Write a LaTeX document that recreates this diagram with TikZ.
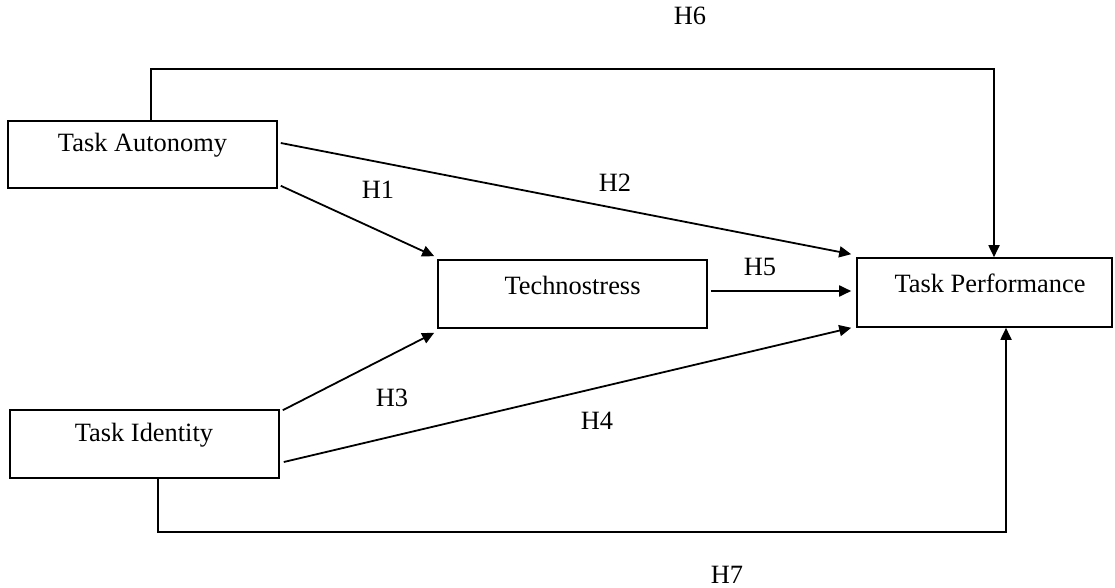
\documentclass[tikz,border=0pt]{standalone}
\usepackage{fontspec}
\setmainfont{Liberation Serif}
\usetikzlibrary{arrows.meta}
\tikzset{
  box/.style={draw, line width=1.6pt, inner sep=0pt},
  lbl/.style={inner sep=0pt, font=\fontsize{26.4}{32}\selectfont},
  conn/.style={line width=1.8pt},
  arr/.style={conn, -{Triangle[length=12pt,width=11pt]}}
}
\begin{document}
\begin{tikzpicture}[x=1pt,y=-1pt]
\useasboundingbox (0,0) rectangle (1115,588);
% boxes
\node[box, minimum width=269pt, minimum height=67pt] (ta) at (142.5,154.5) {};
\node[box, minimum width=269pt, minimum height=68pt] (ts) at (572.5,294) {};
\node[box, minimum width=255pt, minimum height=69pt] (tp) at (984.5,292.5) {};
\node[box, minimum width=269pt, minimum height=68pt] (ti) at (144.5,444) {};
% box texts
\node[lbl] (tat) at (142.5,145) {Task Autonomy};
\node[lbl] (tst) at (572.5,285) {Technostress};
\node[lbl] (tpt) at (990,283) {Task Performance};
\node[lbl] (tit) at (144,435) {Task Identity};
% routing levels
\coordinate (toplev) at (0,69);
\coordinate (botlev) at (0,532);
% connectors
\draw[arr] ([shift={(3,-11.5)}]ta.east) -- ([shift={(-5,-3)}]tp.north west);
\draw[arr] ([shift={(3,-3)}]ta.south east) -- ([shift={(-3,-3)}]ts.north west);
\draw[arr] ([shift={(3,-3)}]ts.east) -- ([shift={(-5,-1.5)}]tp.west);
\draw[arr] ([shift={(3,1)}]ti.north east) -- ([shift={(-3,4)}]ts.south west);
\draw[arr] ([shift={(4,18)}]ti.east) -- ([shift={(-5,0)}]tp.south west);
\draw[arr] ([shift={(8.5,0)}]ta.north) |- ([shift={(9.5,0)}]tp.north |- toplev) -- ([shift={(9.5,0)}]tp.north);
\draw[arr] ([shift={(13.5,0)}]ti.south) |- ([shift={(21.5,0)}]tp.south |- botlev) -- ([shift={(21.5,0)}]tp.south);
% hypothesis labels
\node[lbl] (h1) at (378,190) {H1};
\node[lbl] (h2) at (615,183) {H2};
\node[lbl] (h3) at (392,398) {H3};
\node[lbl] (h4) at (597,421) {H4};
\node[lbl] (h5) at (760,267) {H5};
\node[lbl] (h6) at (690,16) {H6};
\node[lbl] (h7) at (727,575) {H7};
\end{tikzpicture}
\end{document}
